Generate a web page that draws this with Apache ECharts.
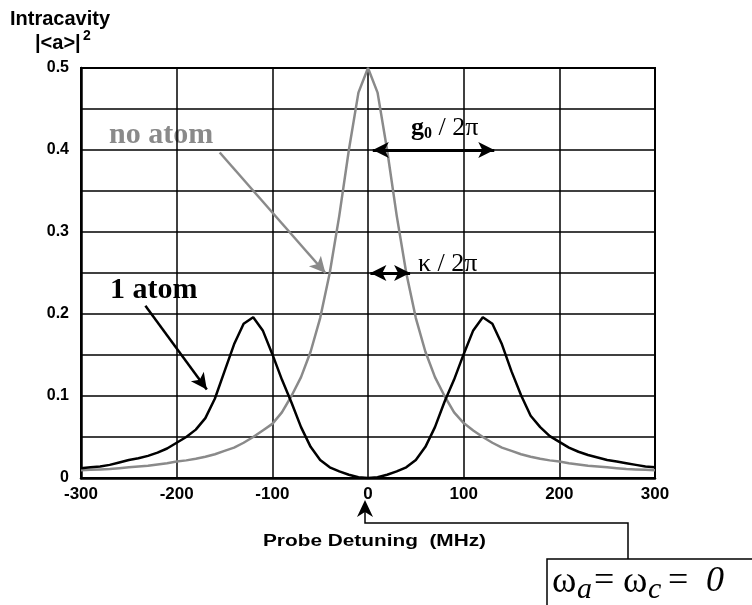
<!DOCTYPE html>
<html>
<head>
<meta charset="utf-8">
<script src="https://cdn.jsdelivr.net/npm/echarts@6.0.0/dist/echarts.min.js"></script>
<style>
html, body { margin: 0; padding: 0; background: #fff; }
#chart { width: 752px; height: 605px; }
</style>
</head>
<body>
<div id="chart"></div>
<script>
// probe detuning (MHz) sample points
const detuning = [
  -300, -290, -280, -270, -260, -250, -240, -230, -220, -210,
  -200, -190, -180, -170, -160, -150, -140, -130, -120, -110,
  -100, -90, -80, -70, -60, -50, -40, -30, -20, -10,
  0, 10, 20, 30, 40, 50, 60, 70, 80, 90,
  100, 110, 120, 130, 140, 150, 160, 170, 180, 190,
  200, 210, 220, 230, 240, 250, 260, 270, 280, 290, 300
]

// empty cavity
const noAtom = [
  0.0095, 0.010, 0.0105, 0.011, 0.012, 0.013, 0.014, 0.015, 0.0165, 0.018,
  0.020, 0.0215, 0.0235, 0.026, 0.029, 0.033, 0.037, 0.043, 0.050, 0.058,
  0.066, 0.080, 0.100, 0.123, 0.154, 0.195, 0.250, 0.320, 0.400, 0.470,
  0.500, 0.470, 0.400, 0.320, 0.250, 0.195, 0.154, 0.123, 0.100, 0.080,
  0.067, 0.058, 0.050, 0.043, 0.037, 0.033, 0.029, 0.026, 0.0235, 0.0215,
  0.020, 0.018, 0.0165, 0.015, 0.014, 0.013, 0.012, 0.011, 0.0105, 0.010, 0.0095
]

// one atom in the cavity
const oneAtom = [
  0.012, 0.013, 0.014, 0.016, 0.019, 0.022, 0.024, 0.027, 0.031, 0.036,
  0.043, 0.050, 0.059, 0.073, 0.097, 0.130, 0.163, 0.188, 0.196, 0.180,
  0.151, 0.120, 0.092, 0.062, 0.038, 0.022, 0.013, 0.008, 0.004, 0.001,
  0.000, 0.001, 0.004, 0.008, 0.013, 0.022, 0.038, 0.062, 0.093, 0.120,
  0.151, 0.180, 0.196, 0.188, 0.163, 0.130, 0.101, 0.076, 0.062, 0.051,
  0.044, 0.037, 0.032, 0.028, 0.025, 0.022, 0.020, 0.018, 0.016, 0.014, 0.013
]

const yLabelValues = [0, 0.1, 0.2, 0.3, 0.4, 0.5]

const sans = '"Liberation Sans", Arial, sans-serif'
const serif = '"Liberation Serif", "Times New Roman", serif'

const pairs = (ys) => detuning.map((x, i) => [x, ys[i]])

const txt = (x, y, text, font, fill, extra) => Object.assign({
  type: 'text',
  x: x,
  y: y,
  silent: true,
  style: {
    text: text,
    font: font,
    fill: fill || '#000',
    align: 'left',
    verticalAlign: 'middle'
  }
}, extra || {})

const chart = echarts.init(document.getElementById('chart'))

const option = {
  animation: false,
  backgroundColor: '#fff',
  grid: {
    left: 81,
    right: 97,
    top: 68,
    bottom: 127,
    containLabel: false,
    outerBoundsMode: 'none',
    show: true,
    borderColor: '#000',
    borderWidth: 2
  },
  xAxis: {
    type: 'value',
    min: -300,
    max: 300,
    interval: 100,
    axisLine: { show: true, onZero: false, lineStyle: { color: '#000', width: 2.5 } },
    axisTick: { show: false },
    splitLine: { show: true, lineStyle: { color: '#000', width: 1.5 } },
    axisLabel: {
      color: '#000',
      fontFamily: sans,
      fontWeight: 'bold',
      fontSize: 17,
      margin: 8
    }
  },
  yAxis: {
    type: 'value',
    min: 0,
    max: 0.5,
    interval: 0.05,
    axisLine: { show: true, onZero: false, lineStyle: { color: '#000', width: 2.5 } },
    axisTick: { show: false },
    splitLine: { show: true, lineStyle: { color: '#000', width: 1.5 } },
    axisLabel: {
      color: '#000',
      fontFamily: sans,
      fontWeight: 'bold',
      fontSize: 16,
      margin: 12,
      formatter: function (v) {
        const hit = yLabelValues.find(t => Math.abs(t - v) < 1e-6)
        return hit === undefined ? '' : String(hit)
      }
    }
  },
  series: [
    {
      name: 'no atom',
      type: 'line',
      data: pairs(noAtom),
      symbol: 'none',
      lineStyle: { color: '#8a8a8a', width: 2.5 },
      z: 3,
      markLine: {
        silent: true,
        animation: false,
        symbol: ['none', 'arrow'],
        symbolSize: [12, 16],
        label: { show: false },
        lineStyle: { color: '#8a8a8a', width: 2.5, type: 'solid' },
        data: [
          [{ coord: [-155, 0.397] }, { coord: [-44.5, 0.25] }]
        ]
      }
    },
    {
      name: '1 atom',
      type: 'line',
      data: pairs(oneAtom),
      symbol: 'none',
      lineStyle: { color: '#000', width: 2.5 },
      z: 4,
      markLine: {
        silent: true,
        animation: false,
        symbol: ['arrow', 'arrow'],
        symbolSize: [12, 16],
        label: { show: false },
        lineStyle: { color: '#000', width: 2.5, type: 'solid' },
        data: [
          [{ coord: [-232.7, 0.21], symbol: 'none' }, { coord: [-168.5, 0.108], symbol: 'arrow' }],
          [{ coord: [5, 0.4], lineStyle: { width: 3 } }, { coord: [132, 0.4] }],
          [{ coord: [2.5, 0.25], lineStyle: { width: 3 } }, { coord: [44, 0.25] }]
        ]
      }
    }
  ],
  graphic: [
    txt(10, 19, 'Intracavity', 'bold 20px ' + sans),
    txt(35, 43, '|<a>|', 'bold 20px ' + sans),
    txt(83, 36, '2', 'bold 14px ' + sans),
    txt(109, 135, 'no atom', 'bold 30px ' + serif, '#8a8a8a'),
    txt(110, 290, '1 atom', 'bold 30px ' + serif),
    txt(411, 128, 'g', 'bold 26px ' + serif),
    txt(424, 134, '0', 'bold 16px ' + serif),
    txt(432, 128, ' / 2\u03c0', '26px ' + serif),
    txt(418, 264, '\u03ba / 2\u03c0', '26px ' + serif),
    txt(263, 542, 'Probe Detuning  (MHz)', 'bold 16px ' + sans, '#000', { scaleX: 1.3 }),
    {
      type: 'polygon',
      silent: true,
      shape: { points: [[365, 500], [373, 517], [365, 512], [357, 517]] },
      style: { fill: '#000' }
    },
    {
      type: 'polyline',
      silent: true,
      shape: { points: [[365, 512], [365, 523], [628, 523], [628, 559]] },
      style: { stroke: '#000', lineWidth: 1.5, fill: null }
    },
    {
      type: 'rect',
      silent: true,
      shape: { x: 547, y: 559, width: 240, height: 70 },
      style: { fill: '#fff', stroke: '#000', lineWidth: 1.5 }
    },
    txt(552, 582, '\u03c9', '37px ' + serif),
    txt(577, 590, 'a', 'italic 30px ' + serif),
    txt(594, 582, '=', '36px ' + serif),
    txt(623, 582, '\u03c9', '37px ' + serif),
    txt(648, 590, 'c', 'italic 30px ' + serif),
    txt(668, 582, '=', '36px ' + serif),
    txt(706, 582, '0', 'italic 36px ' + serif)
  ]
}

chart.setOption(option)
</script>
</body>
</html>
